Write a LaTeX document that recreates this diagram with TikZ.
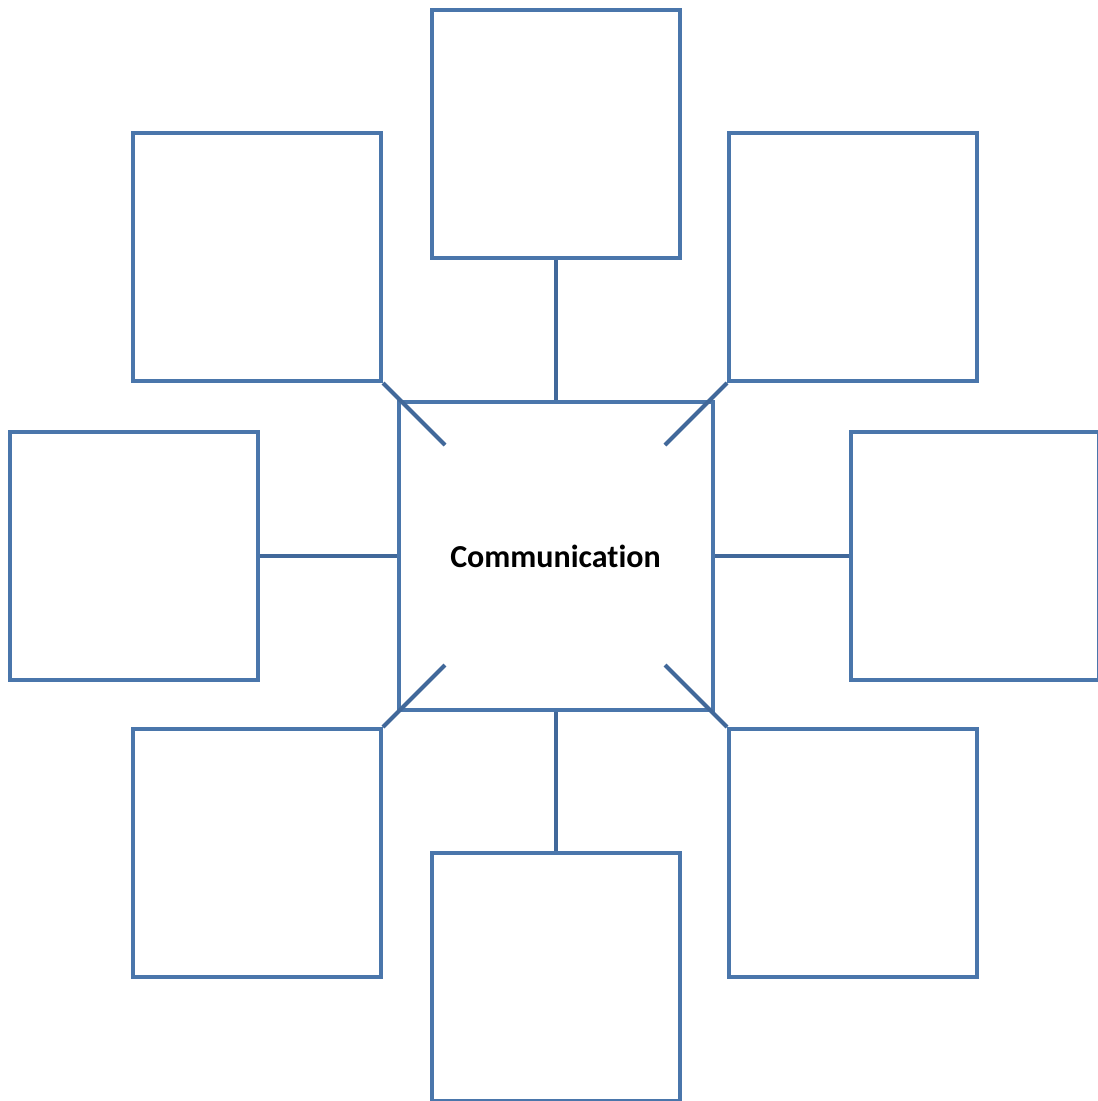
\documentclass[tikz,border=0pt]{standalone}
\usepackage{fontspec}
\setmainfont[Ligatures=NoCommon]{Carlito}
\definecolor{boxblue}{HTML}{4A76AB}
\definecolor{linkblue}{HTML}{41689A}
\begin{document}
\begin{tikzpicture}[x=1pt,y=-1pt,
  sq/.style={draw=boxblue, line width=4pt, fill=white, rectangle, inner sep=0pt, minimum width=248pt, minimum height=248pt},
  hub/.style={draw=boxblue, line width=4pt, fill=white, rectangle, inner sep=0pt, minimum width=314pt, minimum height=308pt, font=\bfseries\fontsize{32}{38}\selectfont},
  link/.style={draw=linkblue, line width=4pt}]
\clip (0,0) rectangle (1098,1101);
\fill[white] (0,0) rectangle (1098,1101);
\node[hub] (c) at (555.5,556) {Communication};
\node[sq] (t) at (555.5,134) {};
\node[sq] (tl) at (257,257) {};
\node[sq] (tr) at (853,257) {};
\node[sq] (l) at (133.5,556) {};
\node[sq] (r) at (975,556) {};
\node[sq] (bl) at (257,853) {};
\node[sq] (b) at (555.5,977) {};
\node[sq] (br) at (853,853) {};
\coordinate (ctl) at (445,445);
\coordinate (ctr) at (665,445);
\coordinate (cbl) at (445,665);
\coordinate (cbr) at (665,665);
\draw[link] (t.south) -- (c.north);
\draw[link] (b.north) -- (c.south);
\draw[link] (l.east) -- (c.west);
\draw[link] (r.west) -- (c.east);
\draw[link] (tl.south east) -- (ctl);
\draw[link] (tr.south west) -- (ctr);
\draw[link] (bl.north east) -- (cbl);
\draw[link] (br.north west) -- (cbr);
\end{tikzpicture}
\end{document}
